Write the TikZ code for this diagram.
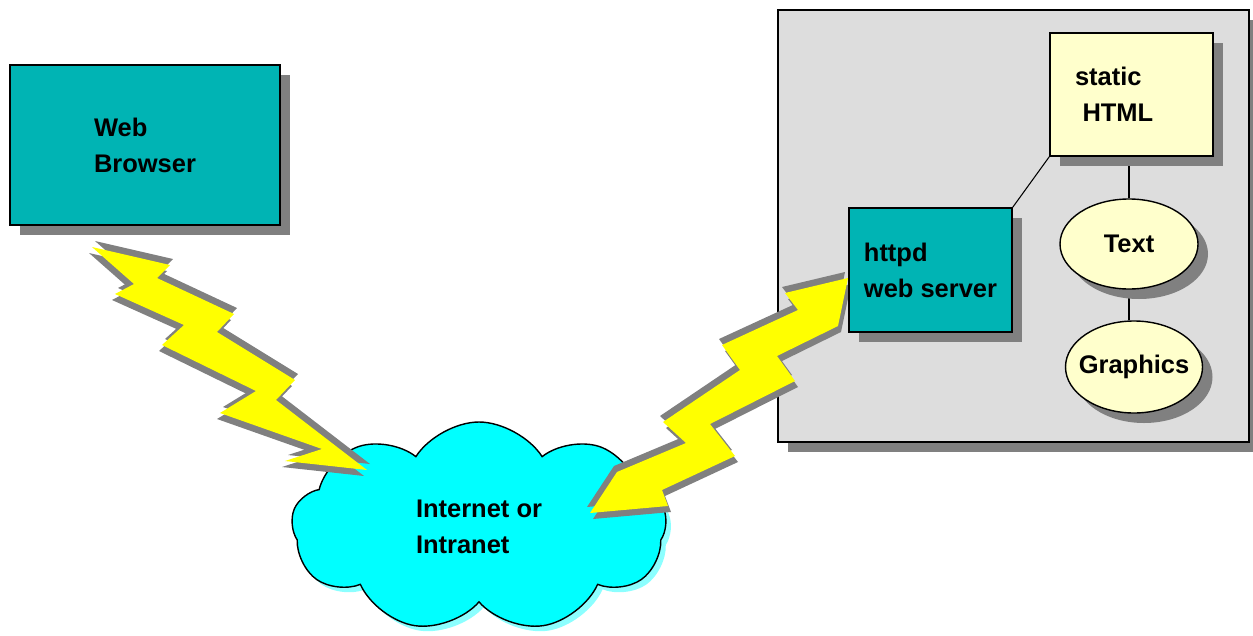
\documentclass[tikz,border=0pt]{standalone}
\usepackage{fontspec}
\setmainfont{Liberation Sans}
\usetikzlibrary{positioning,shapes.geometric,shapes.symbols,shadows,backgrounds}
\definecolor{BoxTeal}{RGB}{0,180,180}
\definecolor{NetCyan}{RGB}{0,255,255}
\definecolor{HostGray}{RGB}{221,221,221}
\definecolor{PaleYellow}{RGB}{255,255,204}
\definecolor{ShadowGray}{RGB}{128,128,128}
\definecolor{BoltYellow}{RGB}{255,255,0}

\begin{document}
\begin{tikzpicture}[x=0.2mm,y=-0.2mm,
    every node/.style={font=\bfseries\fontsize{14.5}{20.5}\selectfont,line width=0.8pt},
    boxshadow/.style={drop shadow={shadow xshift=2mm,shadow yshift=-2mm,fill=ShadowGray,opacity=1}}]
  \useasboundingbox (0,0) rectangle (1253,636);
  \begin{scope}[on background layer]
    \node[draw,fill=HostGray,boxshadow,minimum width=94.2mm,minimum height=86.4mm] (Host) at (1013.5,226) {};
  \end{scope}
  \node[cloud,draw,fill=NetCyan,cloud puffs=9,cloud puff arc=115,aspect=1.8,minimum width=75mm,minimum height=42mm,align=left,
    drop shadow={shadow xshift=1mm,shadow yshift=-1mm,fill=NetCyan!45,opacity=1}] (Net) at (479,527) {Internet or\\Intranet};
  \node[draw,fill=BoxTeal,boxshadow,minimum width=54mm,minimum height=32mm,align=left] (Browser) at (145,145) {Web\\Browser};
  % lightning
  \foreach \dx/\dy/\c in {3/-6/ShadowGray,-3/6/ShadowGray,0/0/BoltYellow}
    \fill[\c,shift={(\dx,\dy)}] (92,247) -- (170,265) -- (157,278) -- (234,314) -- (217,332) -- (295,380) -- (276,400)
      -- (367,470) -- (285,461) -- (322,449) -- (220,413) -- (256,391) -- (162,345) -- (184,325) -- (115,294) -- (134,284) -- cycle;
  \foreach \dx/\dy/\c in {-3/-6/ShadowGray,3/6/ShadowGray,0/0/BoltYellow}
    \fill[\c,shift={(\dx,\dy)}] (590,513) -- (617,472) -- (686,443) -- (663,422) -- (740,370) -- (722,345) -- (798,310) -- (785,293)
      -- (848,278) -- (838,326) -- (777,356) -- (795,381) -- (710,424) -- (735,456) -- (662,490) -- (668,506) -- cycle;
  \node[draw,fill=BoxTeal,boxshadow,minimum width=32.6mm,minimum height=24.8mm,align=left] (Httpd) at (930.5,270) {httpd\\web server};
  \node[draw,fill=PaleYellow,boxshadow,minimum width=32.6mm,minimum height=24.6mm,text width=22.6mm,inner xsep=5mm,align=left] (Static) at (1131.5,94.5) {static\\\hspace*{1.5mm}HTML};
  \node[ellipse,draw,fill=PaleYellow,boxshadow,minimum width=27.6mm,minimum height=18mm,inner sep=0pt] (Text) at (1129,244) {Text};
  \node[ellipse,draw,fill=PaleYellow,boxshadow,minimum width=27.4mm,minimum height=18.4mm,inner sep=0pt] (Graphics) at (1134,367) {\makebox[0pt]{Graphics}};
  \begin{scope}[on background layer]
    \draw[line width=0.6pt] (Httpd.north east) -- (Static.south west);
    \draw[line width=0.8pt] (Text.north) -- (Text.north |- Static.south);
    \draw[line width=0.8pt] (Text.south) -- (Text.south |- Graphics.north);
  \end{scope}
\end{tikzpicture}
\end{document}
